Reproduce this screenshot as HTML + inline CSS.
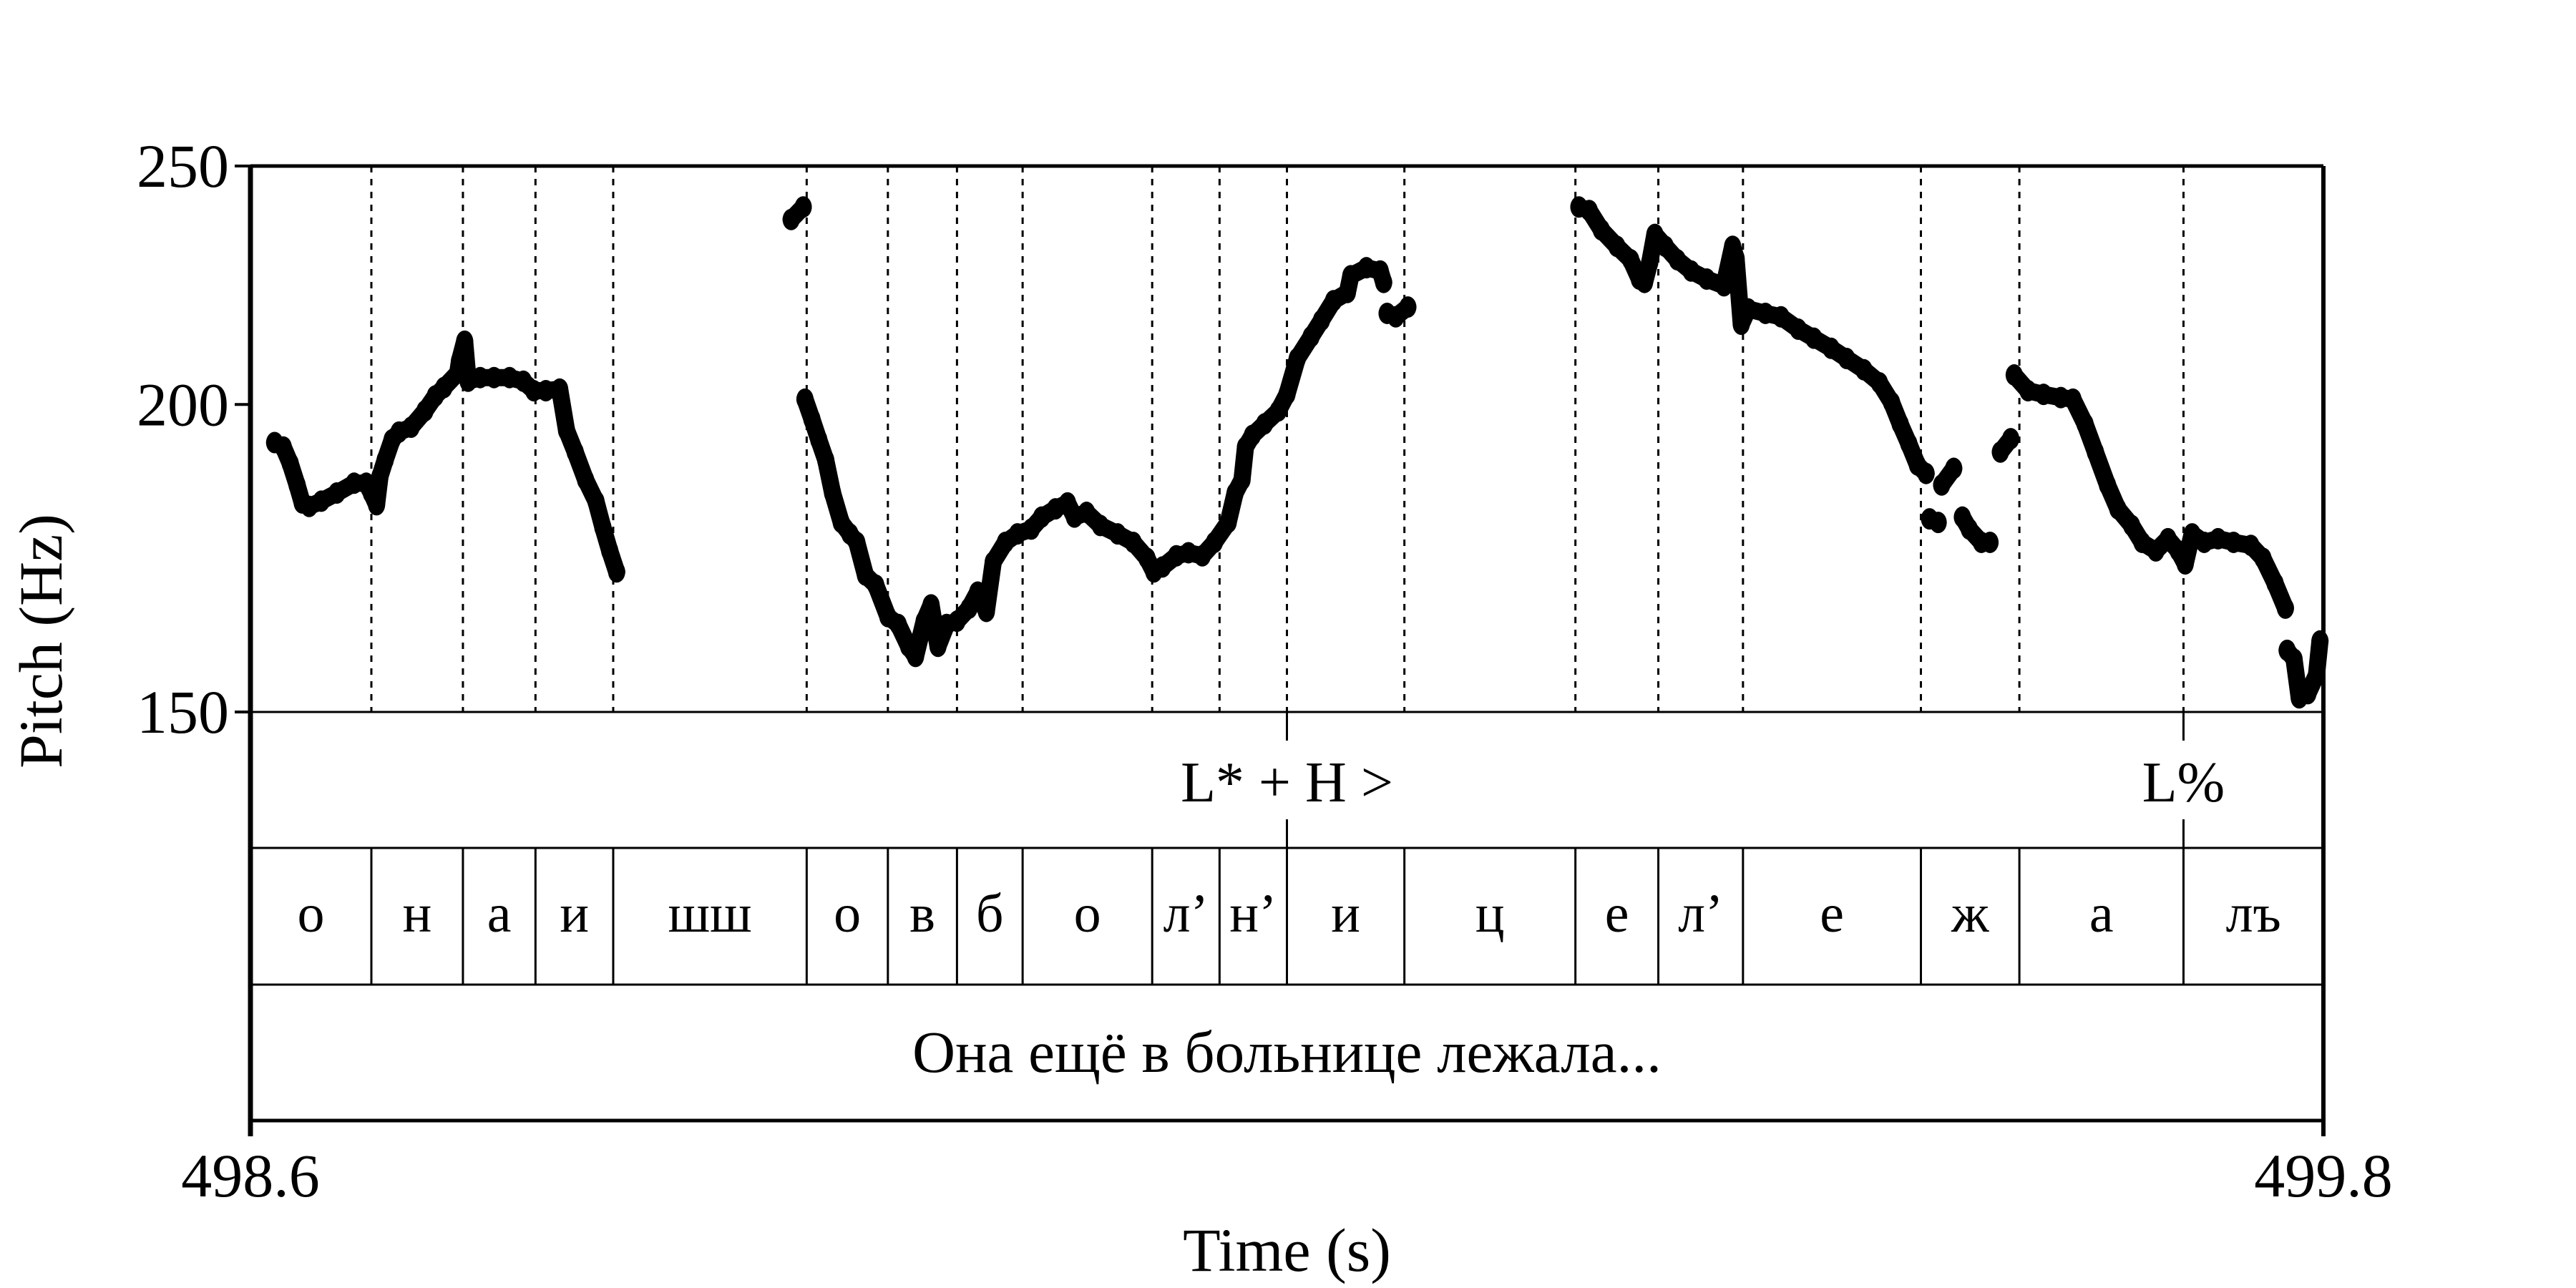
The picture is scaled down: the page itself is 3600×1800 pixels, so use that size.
<!DOCTYPE html>
<html><head><meta charset="utf-8"><style>
html,body{margin:0;padding:0;background:#fff;}
svg{display:block;}
text{font-family:"Liberation Serif","Noto Serif CJK SC",serif;fill:#000;}
</style></head><body>
<svg id="chart" width="3600" height="1800" viewBox="0 0 3600 1800" xmlns="http://www.w3.org/2000/svg">
<g id="grid"></g>
<g id="marks"></g>
<g id="frame"></g>
<g id="labels"></g>
</svg>
<script>
const times=[498.614,498.619,498.623,498.627,498.630,498.634,498.641,498.650,498.660,498.667,498.670,498.673,498.675,498.678,498.682,498.686,498.693,498.701,498.707,498.712,498.720,498.721,498.724,498.726,498.733,498.741,498.750,498.758,498.764,498.771,498.779,498.783,498.788,498.794,498.800,498.804,498.808,498.812,
498.913,498.920,
498.921,498.925,498.929,498.933,498.937,498.942,498.947,498.951,498.956,498.962,498.969,498.975,498.981,498.985,498.990,498.994,498.998,499.003,499.009,499.016,499.021,499.026,499.030,499.037,499.044,499.052,499.058,499.066,499.073,499.077,499.084,499.092,499.102,499.111,499.119,499.123,499.128,499.136,499.143,499.151,499.158,499.166,499.170,499.174,499.176,499.180,499.187,499.195,499.200,499.206,499.214,499.220,499.227,499.235,499.237,499.246,499.254,499.256,
499.258,499.263,499.270,
499.369,499.375,499.382,499.391,499.399,499.404,499.407,499.410,499.413,499.419,499.426,499.434,499.443,499.453,499.458,499.460,499.463,499.467,499.477,499.486,499.496,499.505,499.515,499.524,499.534,499.543,499.550,499.555,499.560,499.565,499.570,
499.572,499.577,499.579,499.586,499.591,499.595,499.602,499.607,499.613,499.619,
499.621,499.629,499.638,499.648,499.655,499.662,499.668,499.675,499.681,499.689,499.695,499.703,499.710,499.716,499.720,499.724,499.731,499.739,499.748,499.758,499.765,499.772,499.778,
499.779,499.783,499.786,499.791,499.796,499.798];
const pitchHz=[193.0,192.2,189.3,185.5,182.4,181.8,182.7,184.1,185.8,185.8,184.1,182.1,187.0,189.9,193.5,194.9,195.8,198.8,201.6,203.2,206.0,208.3,212.2,204.4,205.1,205.1,205.1,204.4,202.6,202.6,202.9,195.2,191.3,186.4,182.7,178.3,174.4,171.0,
237.8,240.6,
201.0,197.3,193.5,189.9,184.1,179.1,177.2,175.8,170.5,168.9,164.0,162.8,159.5,158.0,163.3,165.8,159.5,162.8,163.3,165.3,167.8,164.8,172.6,175.8,177.2,178.0,180.0,181.4,182.4,180.0,180.8,178.6,177.2,175.8,173.2,171.0,171.8,173.6,174.1,173.6,175.8,179.1,184.1,186.4,192.2,194.3,196.4,198.8,201.9,208.8,213.1,216.4,220.4,222.1,225.6,227.3,226.6,224.2,
217.8,217.1,219.1,
240.6,239.8,235.5,231.9,229.0,224.9,224.2,228.4,234.5,231.9,229.0,226.6,224.9,223.5,231.9,229.3,215.6,218.7,217.8,217.1,214.6,212.8,210.8,208.8,206.6,204.1,200.4,196.4,192.8,189.0,187.5,
179.7,179.1,185.5,188.4,180.0,178.0,175.8,175.8,191.3,193.7,
205.6,202.6,201.9,201.3,201.0,196.4,191.3,185.5,181.4,178.6,175.8,174.4,176.4,174.4,172.3,177.2,175.8,176.4,175.8,175.3,173.2,169.2,165.3,
158.9,157.6,152.0,152.6,155.3,160.3];
const segmentIds=[1,1,1,1,1,1,1,1,1,1,1,1,1,1,1,1,1,1,1,1,1,1,1,1,1,1,1,1,1,1,1,1,1,1,1,1,1,1,
2,2,
3,3,3,3,3,3,3,3,3,3,3,3,3,3,3,3,3,3,3,3,3,3,3,3,3,3,3,3,3,3,3,3,3,3,3,3,3,3,3,3,3,3,3,3,3,3,3,3,3,3,3,3,3,3,3,3,3,3,
4,4,4,
5,5,5,5,5,5,5,5,5,5,5,5,5,5,5,5,5,5,5,5,5,5,5,5,5,5,5,5,5,5,5,
6,6,7,7,8,8,8,8,9,9,
10,10,10,10,10,10,10,10,10,10,10,10,10,10,10,10,10,10,10,10,10,10,10,
11,11,11,11,11,11];
const yTicks=[150,200,250];
const xTicks=[498.6,499.8];
const boundaries=[498.670,498.723,498.765,498.810,498.922,498.969,499.009,499.047,499.122,499.161,499.200,499.268,499.367,499.415,499.464,499.567,499.624,499.719];
const segLabels=["о","н","а","и","шш","о","в","б","о","л’","н’","и","ц","е","л’","е","ж","а","лъ"];
const toneTimes=[499.200,499.719];
const toneLabels=["L* + H >","L%"];
const sentence="Она ещё в больнице лежала...";

const NS="http://www.w3.org/2000/svg";
const L=350,R=3247,T=232,B=995,T1=1185,T2=1376,T3=1566;
const t0=498.6,t1=499.8,f0=150,f1=250;
const xs=t=>L+(t-t0)/(t1-t0)*(R-L);
const ys=f=>B-Math.log(f/f0)/Math.log(f1/f0)*(B-T);
function mk(tag,attrs,parent){const e=document.createElementNS(NS,tag);for(const k in attrs)e.setAttribute(k,attrs[k]);parent.appendChild(e);return e;}
const grid=document.getElementById('grid'),marks=document.getElementById('marks'),frame=document.getElementById('frame'),labels=document.getElementById('labels');

boundaries.forEach((b,i)=>{
  const x=xs(b);
  const d=mk('line',{x1:x,y1:T,x2:x,y2:B,stroke:'#000','stroke-width':3,'stroke-dasharray':'9,9'},grid);
  
  
  const s=mk('line',{x1:x,y1:T1,x2:x,y2:T2,stroke:'#000','stroke-width':3},grid);
  
  
});

const segs={};
times.forEach((t,i)=>{(segs[segmentIds[i]]=segs[segmentIds[i]]||[]).push([xs(t),ys(pitchHz[i])]);});
Object.keys(segs).forEach(k=>{
  const pts=segs[k];
  const pl=mk('polyline',{points:pts.map(p=>p.join(',')).join(' '),fill:'none',stroke:'#000','stroke-width':24,'stroke-linejoin':'round','stroke-linecap':'round'},marks);
  
  
  pts.forEach(p=>{
    const c=mk('ellipse',{cx:p[0],cy:p[1],rx:12,ry:15,fill:'#000'},marks);
    
    
  });
});

const fr=[[L,T,R,T,5],[L,T,L,T3+22,7],[R,T,R,T3+22,6],[L,B,R,B,3],[L,T1,R,T1,3],[L,T2,R,T2,3],[L,T3,R,T3,5]];
fr.forEach(f=>{const l=mk('line',{x1:f[0],y1:f[1],x2:f[2],y2:f[3],stroke:'#000','stroke-width':f[4]},frame);
  
  });

yTicks.forEach(v=>{
  const y=ys(v);
  const tk=mk('line',{x1:L-22,y1:y,x2:L,y2:y,stroke:'#000','stroke-width':4},frame);
  
  
  const tx=mk('text',{x:L-30,y:y+29,'text-anchor':'end','font-size':86},labels);
  tx.textContent=v;
  
  
});
xTicks.forEach(v=>{
  const tx=mk('text',{x:xs(v),y:1672,'text-anchor':'middle','font-size':86},labels);
  tx.textContent=v.toFixed(1);
  
  
});

toneTimes.forEach((t,i)=>{
  const x=xs(t);
  const a=mk('line',{x1:x,y1:B,x2:x,y2:B+40,stroke:'#000','stroke-width':3},grid);
  
  
  const b=mk('line',{x1:x,y1:T1-40,x2:x,y2:T1,stroke:'#000','stroke-width':3},grid);
  
  
  const tx=mk('text',{x:x,y:1120,'text-anchor':'middle','font-size':80},labels);
  tx.textContent=toneLabels[i];
  
  
});

const edges=[t0,...boundaries,t1];
segLabels.forEach((s,i)=>{
  const tx=mk('text',{x:(xs(edges[i])+xs(edges[i+1]))/2,y:1302,'text-anchor':'middle','font-size':76},labels);
  tx.textContent=s;
  
  
});
const st=mk('text',{x:(L+R)/2,y:1498,'text-anchor':'middle','font-size':83},labels);
st.textContent=sentence;



const xt=mk('text',{x:(L+R)/2,y:1776,'text-anchor':'middle','font-size':86},labels);
xt.textContent='Time (s)';


const yt=mk('text',{x:0,y:0,'text-anchor':'middle','font-size':86,transform:'translate(86,896) rotate(-90)'},labels);
yt.textContent='Pitch (Hz)';


</script>
</body></html>
